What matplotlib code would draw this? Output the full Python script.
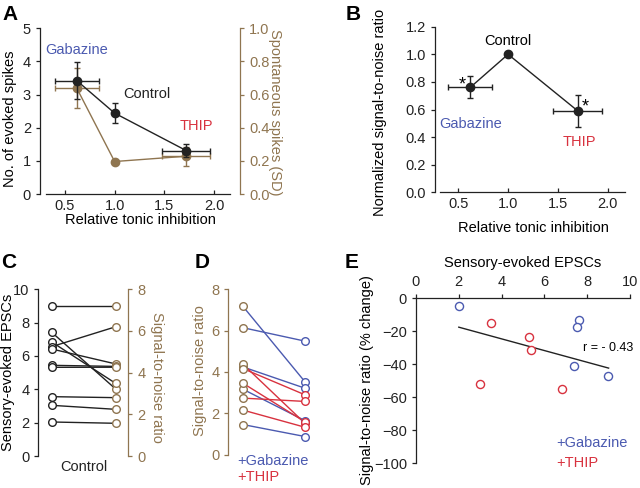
import matplotlib
matplotlib.use("Agg")
from matplotlib import pyplot as plt
import numpy as np

plt.rcParams['font.family'] = ['Liberation Sans', 'DejaVu Sans']
plt.rcParams['font.size'] = 10.5
plt.rcParams['axes.linewidth'] = 0.9
plt.rcParams['xtick.major.width'] = 0.9
plt.rcParams['ytick.major.width'] = 0.9
plt.rcParams['xtick.major.size'] = 3
plt.rcParams['ytick.major.size'] = 3

BLUE = '#4b5ab0'
RED = '#d8323f'
BROWN = '#8f7550'
DARK = '#222222'

# ---- panel A / B data
tonic_x = [0.62, 1.0, 1.72]
tonic_xerr = [0.22, 0.0, 0.24]
evoked = [3.42, 2.44, 1.31]
evoked_err = [0.55, 0.31, 0.20]
spont = [0.638, 0.196, 0.228]
spont_err = [0.12, 0.012, 0.058]

snr_x = [0.62, 1.0, 1.70]
snr_xerr = [0.22, 0.0, 0.245]
snr_norm = [0.76, 1.0, 0.59]
snr_norm_err = [0.08, 0.0, 0.115]

# ---- panel C data (control cells)
epsc_ctrl = [9.0, 7.42, 6.84, 6.56, 6.42, 5.44, 5.32, 3.56, 3.04, 2.04]
snr_ctrl = [7.2, 3.22, 3.49, 6.2, 4.42, 4.3, 4.26, 2.8, 2.24, 1.57]

# ---- panel D data
gbz_before = [7.17, 6.14, 4.24, 3.16, 1.45]
gbz_after = [3.52, 5.49, 3.21, 1.64, 0.87]
thip_before = [4.37, 4.16, 3.45, 2.73, 2.15]
thip_after = [1.51, 2.89, 1.58, 2.57, 1.32]

# ---- panel E data
gbz_epsc = [2.0, 7.63, 7.54, 7.38, 8.98]
gbz_change = [-4.6, -13.3, -17.3, -40.8, -46.8]
thip_epsc = [3.5, 5.29, 5.39, 2.99, 6.8]
thip_change = [-15.1, -23.5, -31.6, -51.7, -54.9]
fit_x = [2.0, 9.0]
fit_y = [-17.5, -42.3]

W, H = 640, 488
fig = plt.figure(figsize=(W / 100, H / 100), dpi=100)


def px_axes(x0, y0, x1, y1):
    return fig.add_axes([x0 / W, 1 - y1 / H, (x1 - x0) / W, (y1 - y0) / H])


def px_text(x, y, s, **kw):
    kw.setdefault('ha', 'center')
    kw.setdefault('va', 'center')
    fig.text(x / W, 1 - y / H, s, **kw)


def px2pt(p):
    return p * 72 / 100


def clean(ax, keep=('left', 'bottom')):
    for side in ['left', 'right', 'top', 'bottom']:
        ax.spines[side].set_visible(side in keep)
        ax.spines[side].set_color(DARK)
    ax.tick_params(colors=DARK, labelcolor='#222222')


# ================= A
axA = px_axes(46, 28.3, 230, 194)
axA2 = axA.twinx()
clean(axA)
clean(axA2, keep=('right',))
axA.spines['left'].set_position(('outward', px2pt(6)))
axA2.spines['right'].set_position(('outward', px2pt(10)))
axA2.spines['right'].set_color(BROWN)
axA2.tick_params(axis='y', colors=BROWN, labelcolor=BROWN)
axA.set_zorder(axA2.get_zorder() + 1)
axA.patch.set_visible(False)

axA2.errorbar(tonic_x, spont, yerr=spont_err, xerr=tonic_xerr, color=BROWN,
              marker='o', ms=6, lw=1, elinewidth=1, capsize=2, capthick=1)
axA.errorbar(tonic_x, evoked, yerr=evoked_err, xerr=tonic_xerr, color=DARK,
             marker='o', ms=6, lw=1, elinewidth=1, capsize=2, capthick=1)
axA.set_xlim(0.31, 2.16)
axA.set_ylim(0, 5)
axA2.set_ylim(0, 1)
axA.set_xticks([0.5, 1.0, 1.5, 2.0])
axA.set_xticklabels(['0.5', '1.0', '1.5', '2.0'])
axA.set_yticks(range(6))
axA2.set_yticks(np.arange(0, 1.01, 0.2))
axA2.set_yticklabels(['%.1f' % v for v in np.arange(0, 1.01, 0.2)])
axA.tick_params(axis='x', direction='in')
px_text(140, 220, 'Relative tonic inhibition')
px_text(10, 119, 'No. of evoked spikes', rotation=90)
px_text(275, 112, 'Spontaneous spikes (SD)', rotation=270, color=BROWN)
axA.text(0.62, 4.36, 'Gabazine', color=BLUE, ha='center', va='center')
axA.text(1.32, 3.03, 'Control', color=DARK, ha='center', va='center')
axA.text(1.82, 2.05, 'THIP', color=RED, ha='center', va='center')

# ================= B
axB = px_axes(440, 26.7, 625, 192.3)
clean(axB)
axB.spines['left'].set_position(('outward', px2pt(5)))
axB.errorbar(snr_x, snr_norm, yerr=snr_norm_err, xerr=snr_xerr, color=DARK,
             marker='o', ms=6, lw=1, elinewidth=1, capsize=2, capthick=1)
axB.set_xlim(0.316, 2.175)
axB.set_ylim(0, 1.2)
axB.set_xticks([0.5, 1.0, 1.5, 2.0])
axB.set_xticklabels(['0.5', '1.0', '1.5', '2.0'])
axB.set_yticks(np.arange(0, 1.21, 0.2))
axB.set_yticklabels(['%.1f' % v for v in np.arange(0, 1.21, 0.2)])
axB.tick_params(axis='x', direction='in')
px_text(533, 228, 'Relative tonic inhibition')
px_text(380, 112, 'Normalized signal-to-noise ratio', rotation=90)
axB.text(0.544, 0.78, '*', ha='center', va='center', fontsize=13)
axB.text(1.78, 0.615, '*', ha='center', va='center', fontsize=13)
axB.text(1.0, 1.10, 'Control', ha='center', va='center')
axB.text(0.62, 0.497, 'Gabazine', color=BLUE, ha='center', va='center')
axB.text(1.716, 0.367, 'THIP', color=RED, ha='center', va='center')

# ================= C
axC = px_axes(38.3, 289.3, 128.3, 456)
axC2 = axC.twinx()
clean(axC, keep=('left',))
clean(axC2, keep=('right',))
axC2.spines['right'].set_color(BROWN)
axC2.tick_params(axis='y', colors=BROWN, labelcolor=BROWN)
axC.set_xlim(-0.21, 1.2)
axC.set_ylim(0, 10)
axC2.set_ylim(0, 8)
scale = 10 / 8
for e, s in zip(epsc_ctrl, snr_ctrl):
    axC.plot([0, 1], [e, s * scale], color=DARK, lw=1)
axC.plot([0] * len(epsc_ctrl), epsc_ctrl, 'o', mfc='white', mec=DARK, ms=5.5, mew=1)
axC2.plot([1] * len(snr_ctrl), snr_ctrl, 'o', mfc='white', mec=BROWN, ms=5.5, mew=1)
axC.set_yticks(range(0, 11, 2))
axC2.set_yticks(range(0, 9, 2))
axC.set_xticks([0.5])
axC.set_xticklabels(['Control'])
axC.tick_params(axis='x', length=0, pad=3)
px_text(8, 372, 'Sensory-evoked EPSCs', rotation=90)
px_text(157, 377, 'Signal-to-noise ratio', rotation=270, color=BROWN)

# ================= D
axD = px_axes(228.3, 289.3, 318, 454.5)
clean(axD, keep=('left',))
axD.spines['left'].set_color(BROWN)
axD.tick_params(axis='y', colors=BROWN, labelcolor=BROWN)
axD.set_xlim(-0.237, 1.21)
axD.set_ylim(0, 8)
for b, a in zip(gbz_before, gbz_after):
    axD.plot([0, 1], [b, a], color=BLUE, lw=1)
for b, a in zip(thip_before, thip_after):
    axD.plot([0, 1], [b, a], color=RED, lw=1)
axD.plot([0] * 10, gbz_before + thip_before, 'o', mfc='white', mec=BROWN, ms=5.5, mew=1)
axD.plot([1] * 5, gbz_after, 'o', mfc='white', mec=BLUE, ms=5.5, mew=1)
axD.plot([1] * 5, thip_after, 'o', mfc='white', mec=RED, ms=5.5, mew=1)
axD.set_yticks(range(0, 9, 2))
axD.set_xticks([])
px_text(200, 371, 'Signal-to-noise ratio', rotation=90, color=BROWN)
px_text(237, 461, '+Gabazine', color=BLUE, ha='left')
px_text(237, 477, '+THIP', color=RED, ha='left')

# ================= E
axE = px_axes(416, 298.3, 630, 463.3)
clean(axE, keep=('left', 'top'))
axE.xaxis.set_ticks_position('top')
axE.set_xlim(0, 10)
axE.set_ylim(-100, 0)
axE.scatter(gbz_epsc, gbz_change, s=34, facecolors='white', edgecolors=BLUE, linewidths=1, zorder=3)
axE.scatter(thip_epsc, thip_change, s=34, facecolors='white', edgecolors=RED, linewidths=1, zorder=3)
axE.plot(fit_x, fit_y, color=DARK, lw=1)
axE.set_xticks(range(0, 11, 2))
axE.set_yticks(range(-100, 1, 20))
px_text(523, 263, 'Sensory-evoked EPSCs')
px_text(367, 380, 'Signal-to-noise ratio (% change)', rotation=90)
axE.text(8.99, -30.3, 'r = - 0.43', ha='center', va='center', fontsize=9)
axE.text(6.54, -87.9, '+Gabazine', color=BLUE, ha='left', va='center')
axE.text(6.54, -100, '+THIP', color=RED, ha='left', va='center')

# ---- panel letters
for letter, x, y in [('A', 10, 14), ('B', 353, 14), ('C', 9, 263), ('D', 202, 262), ('E', 352, 262)]:
    px_text(x, y, letter, fontsize=15, fontweight='bold')

fig.savefig('out.png', dpi=100)
